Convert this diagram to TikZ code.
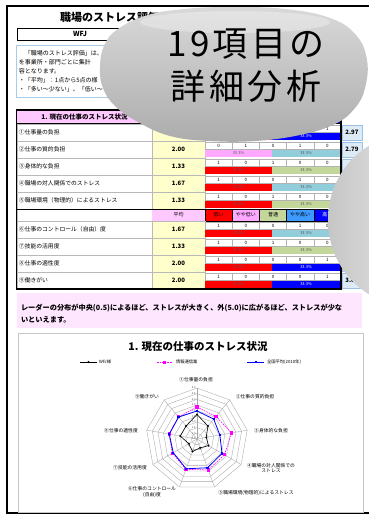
\documentclass[tikz,border=0pt]{standalone}
\usepackage{fontspec}
\setmainfont{Noto Sans CJK JP}
\newfontfamily\bigjp[LetterSpace=10]{Noto Sans CJK JP}
\usetikzlibrary{calc}
\definecolor{hdrpink}{HTML}{FFC8FF}
\definecolor{avgyellow}{HTML}{FFFFCC}
\definecolor{barred}{HTML}{FF0000}
\definecolor{barpink}{HTML}{FFA8FF}
\definecolor{barteal}{HTML}{92CDDC}
\definecolor{bargreen}{HTML}{C4D79B}
\definecolor{barblue}{HTML}{0000FF}
\definecolor{hdrblue}{HTML}{3D9BFF}
\definecolor{rcol}{HTML}{DDEBF7}
\definecolor{rcolb}{HTML}{9BC2E6}
\definecolor{notepink}{HTML}{FFE6FF}
\definecolor{descblue}{HTML}{A9CCEB}
\definecolor{gridgray}{HTML}{A6A6A6}
\definecolor{magline}{HTML}{FF00FF}
\definecolor{blueline}{HTML}{0000FF}
\newcommand\ftitle{\bfseries\fontsize{11}{12}\selectfont}
\newcommand\fdesc{\fontsize{6}{7}\selectfont}
\newcommand\flab{\fontsize{5.8}{6}\selectfont}
\newcommand\fval{\bfseries\fontsize{6}{6}\selectfont}
\newcommand\fnum{\fontsize{4.5}{5}\selectfont}
\newcommand\fpct{\fontsize{4}{4}\selectfont}
\newcommand\fhdr{\fontsize{5}{5}\selectfont}
\newcommand\fax{\fontsize{4.8}{5.8}\selectfont}
\newcommand\fleg{\fontsize{4.3}{5}\selectfont}
% data row: #1 top y, #2 label, #3 average, #4 counts, #5 colour 1, #6 colour 2, #7 text colour 2, #8 right value
\newcommand\datarow[8]{%
  \draw[gray!55, line width=0.8pt] (17,#1) rectangle (152,#1+17);
  \node[anchor=west, font=\flab] (lab#1) at (19,#1+8.5) {#2};
  \fill[avgyellow] (152,#1) rectangle (205,#1+17);
  \draw[gray!55, line width=0.5pt] (152,#1) rectangle (205,#1+17);
  \node[font=\fval] (avg#1) at (178.5,#1+8.5) {#3};
  \foreach \n [count=\i from 0] in {#4} {
    \draw[gray!60, fill=white, line width=0.3pt] ({205+27.2*\i},#1+1) rectangle ({205+27.2*(\i+1)},#1+8);
    \node[font=\fnum] (num#1-\i) at ({218.6+27.2*\i},#1+4.6) {\n};
  }
  \fill[#5] (205,#1+8.5) rectangle (272,#1+16);
  \fill[#6] (272,#1+8.5) rectangle (340,#1+16);
  \node[font=\fpct, text=black!65] (pa#1) at (238.5,#1+12.3) {33.3\%};
  \node[font=\fpct, text=#7] (pb#1) at (306,#1+12.3) {33.3\%};
  \draw[rcolb, fill=rcol, line width=0.5pt] (342,#1+1) rectangle (362,#1+16);
  \node[font=\fval] (rv#1) at (352,#1+8.5) {#8};
}
% header row: #1 top, #2 bottom
\newcommand\hdrrow[2]{%
  \fill[hdrpink] (152,#1) rectangle (205,#2);
  \node[font=\fhdr] (hav#1) at (178.5,{(#1+#2)/2}) {平均};
  \fill[barred] (205,#1) rectangle (232.2,#2);
  \fill[barpink] (232.2,#1) rectangle (259.4,#2);
  \fill[bargreen] (259.4,#1) rectangle (286.6,#2);
  \fill[hdrblue] (286.6,#1) rectangle (313.8,#2);
  \fill[barblue] (313.8,#1) rectangle (341,#2);
  \foreach \xx in {205,232.2,259.4,286.6,313.8} \draw[black, line width=0.6pt] (\xx,#1) -- (\xx,#2);
  \node[font=\fhdr] (hA#1) at (218.6,{(#1+#2)/2}) {低い};
  \node[font=\fhdr] (hB#1) at (245.8,{(#1+#2)/2}) {やや低い};
  \node[font=\fhdr] (hC#1) at (273,{(#1+#2)/2}) {普通};
  \node[font=\fhdr] (hD#1) at (300.2,{(#1+#2)/2}) {やや高い};
  \node[font=\fhdr, text=white] (hE#1) at (327.4,{(#1+#2)/2}) {高い};
  \draw[black, line width=0.9pt] (16.5,#1) -- (341,#1) (16.5,#2) -- (341,#2);
}
\begin{document}
\begin{tikzpicture}[x=1pt,y=-1pt, every node/.style={inner sep=0pt, outer sep=0pt}]
\useasboundingbox (0,0) rectangle (369,515);
\fill[white] (0,0) rectangle (369,515);
% page frame
\draw[black, line width=1.3pt] (370,6) -- (7,6) -- (7,513) -- (370,513);
% title
\node[anchor=west, font=\ftitle] (title) at (60,17) {職場のストレス評価};
\draw[black, line width=0.6pt] (17,28) rectangle (145,40);
\node[font=\bfseries\fontsize{7}{7}\selectfont] (wfj) at (80,34.2) {WFJ};
% description
\draw[descblue, line width=0.6pt] (16,45) rectangle (350,97);
\node[anchor=west, font=\fdesc] (d1) at (19,53) {　「職場のストレス評価」は、};
\node[anchor=west, font=\fdesc] (d2) at (19,62) {を事業所・部門ごとに集計};
\node[anchor=west, font=\fdesc] (d3) at (19,71) {容となります。};
\node[anchor=west, font=\fdesc] (d4) at (19,80.5) {・「平均」：1点から5点の様};
\node[anchor=west, font=\fdesc] (d5) at (19,89.5) {・「多い～少ない」、「低い～};
% table
\fill[hdrpink] (17,110) rectangle (152,123);
\node[font=\bfseries\fontsize{6.5}{7}\selectfont] (sec) at (84.5,116.8) {1. 現在の仕事のストレス状況};
\hdrrow{110}{123.5}
\datarow{124}{①仕事量の負担}{2.67}{1,0,0,0,1}{barred}{barblue}{white}{2.97}
\datarow{141}{②仕事の質的負担}{2.00}{0,1,0,1,0}{barpink}{barteal}{black!65}{2.79}
\datarow{158}{③身体的な負担}{1.33}{1,0,1,0,0}{barred}{bargreen}{black!65}{}
\datarow{175}{④職場の対人関係でのストレス}{1.67}{1,0,0,1,0}{barred}{barteal}{black!65}{}
\datarow{192}{⑤職場環境（物理的）によるストレス}{1.33}{1,0,1,0,0}{barred}{bargreen}{black!65}{}
\draw[gray!55, line width=0.8pt] (17,209) rectangle (152,221);
\hdrrow{209}{221}
\datarow{221}{⑥仕事のコントロール（自由）度}{1.67}{1,0,0,1,0}{barred}{barteal}{black!65}{}
\datarow{238}{⑦技能の活用度}{1.33}{1,0,1,0,0}{barred}{bargreen}{black!65}{2.92}
\datarow{255}{⑧仕事の適性度}{2.00}{1,0,0,0,1}{barred}{barblue}{white}{2.99}
\datarow{272}{⑨働きがい}{2.00}{1,0,0,0,1}{barred}{barblue}{white}{3.03}
\draw[black, line width=1.3pt] (16.5,110) rectangle (341,289);
% note
\fill[notepink] (17,293) rectangle (362,328);
\node[anchor=west, font=\bfseries\fontsize{7.2}{8}\selectfont] (note1) at (21,308) {レーダーの分布が中央(0.5)によるほど、ストレスが大きく、外(5.0)に広がるほど、ストレスが少な};
\node[anchor=west, font=\bfseries\fontsize{7.2}{8}\selectfont] (note2) at (21,320) {いといえます。};
% chart
\draw[gray!45, line width=0.7pt] (18,333) rectangle (363,512);
\node[font=\bfseries\fontsize{10.5}{11}\selectfont] (ctitle) at (198,347) {1. 現在の仕事のストレス状況};
\draw[black, line width=0.6pt] (80,362) -- (97,362);
\fill[black] (88.5,360.8) -- (89.7,362) -- (88.5,363.2) -- (87.3,362) -- cycle;
\node[anchor=west, font=\fleg] (lg1) at (99,362) {WFJ様};
\draw[magline, line width=0.7pt, dash pattern=on 1.6pt off 1pt] (157,362) -- (172,362);
\fill[magline] (163,360.5) rectangle (166,363.5);
\node[anchor=west, font=\fleg] (lg2) at (176,362) {情報通信業};
\draw[blueline, line width=0.7pt] (247,362) -- (264,362);
\fill[blueline] (254.5,361) rectangle (256.5,363);
\node[anchor=west, font=\fleg] (lg3) at (267,362) {全国平均(2010年)};
\begin{scope}[shift={(197,439)}]
  \foreach \v in {1,...,9} {
    \pgfmathsetmacro\rr{\v*51/9}
    \draw[gridgray, line width=0.35pt] (-90:\rr) \foreach \k in {1,...,8} { -- ({-90+40*\k}:\rr) } -- cycle;
  }
  \foreach \k in {0,...,8} \draw[gridgray, line width=0.35pt] (0,0) -- ({-90+40*\k}:51);
  \foreach \v in {0,...,9} {
    \pgfmathsetmacro\tv{0.5+0.5*\v}
    \node[anchor=east, font=\fontsize{2.6}{3}\selectfont, text=black!70] (tk\v) at (-1.5,{-\v*51/9}) {\tv};
  }
  % industry (magenta dashed)
  \draw[magline, line width=0.6pt, dash pattern=on 1.6pt off 1pt] (-90:32.0) -- (-50:29.5) -- (-10:35.1) -- (30:31.7) -- (70:32.9) -- (110:32.3) -- (150:28.3) -- (190:28.3) -- (230:28.9) -- cycle;
  \foreach \a/\r in {-90/32.0,-50/29.5,-10/35.1,30/31.7,70/32.9,110/32.3,150/28.3,190/28.3,230/28.9}
    \fill[magline, shift={(\a:\r)}] (-1.6,-1.6) rectangle (1.6,1.6);
  % national average (blue)
  \draw[blueline, line width=0.8pt] (-90:28.0) -- (-50:26.0) -- (-10:23.2) -- (30:28.9) -- (70:30.6) -- (110:31.7) -- (150:27.4) -- (190:28.2) -- (230:28.7) -- cycle;
  \foreach \a/\r in {-90/28.0,-50/26.0,-10/23.2,30/28.9,70/30.6,110/31.7,150/27.4,190/28.2,230/28.7}
    \fill[blueline, shift={(\a:\r)}] (-1.1,-1.1) rectangle (1.1,1.1);
  % WFJ (black)
  \draw[black, line width=0.6pt] (-90:24.6) -- (-50:17.0) -- (-10:9.4) -- (30:13.3) -- (70:9.4) -- (110:13.3) -- (150:9.4) -- (190:17.0) -- (230:17.0) -- cycle;
  \foreach \a/\r in {-90/24.6,-50/17.0,-10/9.4,30/13.3,70/9.4,110/13.3,150/9.4,190/17.0,230/17.0}
    \fill[black, shift={(\a:\r)}] (0,-1.1) -- (1.1,0) -- (0,1.1) -- (-1.1,0) -- cycle;
\end{scope}
\node[font=\fax] (ax1) at (196,380) {①仕事量の負担};
\node[font=\fax] (ax2) at (255,397) {②仕事の質的負担};
\node[font=\fax] (ax3) at (271,431) {③身体的な負担};
\node[font=\fax, align=center] (ax4) at (271,468) {④職場の対人関係での\\ストレス};
\node[font=\fax] (ax5) at (256,493) {⑤職場環境(物理的)によるストレス};
\node[font=\fax, align=center] (ax6) at (152,492) {⑥仕事のコントロール\\(自由)度};
\node[font=\fax] (ax7) at (130,468) {⑦技能の活用度};
\node[font=\fax] (ax8) at (121,431) {⑧仕事の適性度};
\node[font=\fax] (ax9) at (147,397) {⑨働きがい};
% glossy ovals
\shade[top color=gray!30, middle color=gray!10, bottom color=gray!65]
  plot[smooth cycle, tension=0.7] coordinates {(100,68) (104,46) (118,29) (148,15) (185,9) (230,7) (285,9) (330,18) (356,35) (367,60) (365,88) (355,108) (335,124) (300,135) (255,141) (210,141) (170,136) (138,122) (115,106) (103,88)};
\fill[white, opacity=0.3] (235,22) ellipse [x radius=95, y radius=11];
\node[font=\bigjp\fontsize{35}{38}\selectfont] (big1) at (246,44) {19項目の};
\node[font=\bigjp\fontsize{35}{38}\selectfont] (big2) at (246,86) {詳細分析};
\shade[left color=gray!45, right color=white] (408,220) ellipse [x radius=80, y radius=85];
\end{tikzpicture}
\end{document}
